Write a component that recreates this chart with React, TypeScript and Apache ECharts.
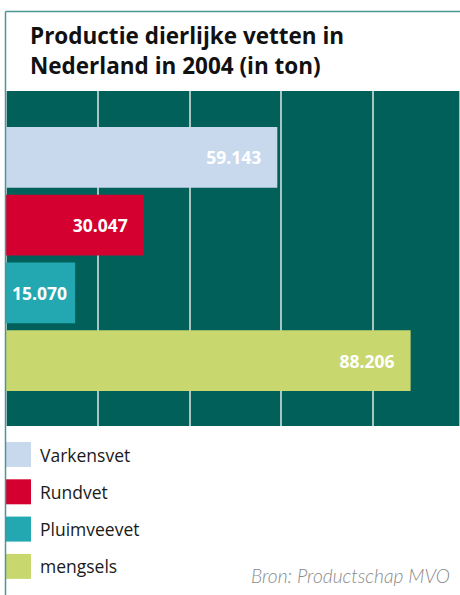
import React, { useEffect, useRef } from "react";
import * as echarts from "echarts";

const categories = ["Varkensvet", "Rundvet", "Pluimveevet", "mengsels"];
const values = [59143, 30047, 15070, 88206];
const colors = ["#C8D9EE", "#D4002F", "#23A7B0", "#C8D76E"];
const titleText = "Productie dierlijke vetten in\nNederland in 2004 (in ton)";
const sourceText = "Bron: Productschap MVO";

function fmt(v: number): string {
  const th = Math.floor(v / 1000);
  const rest = String(v % 1000).padStart(3, "0");
  return th > 0 ? `${th}.${rest}` : String(v);
}

export default function App() {
  const ref = useRef<HTMLDivElement>(null);
  useEffect(() => {
    if (!ref.current) return;
    const chart = echarts.init(ref.current, undefined, { renderer: "svg" });
    const series = categories.map((name, i) => ({
      name,
      type: "bar",
      stack: "total",
      xAxisIndex: 1,
      yAxisIndex: 1,
      barCategoryGap: "10%",
      itemStyle: { color: colors[i] },
      label: {
        show: true,
        position: "insideRight",
        distance: values[i] < 20000 ? 8 : 16,
        color: "#ffffff",
        fontFamily: "Open Sans",
        fontWeight: "bold",
        fontSize: 17.5,
        formatter: (p: any) => fmt(p.value),
      },
      data: categories.map((_, j) => (j === i ? values[i] : null)),
    }));
    chart.setOption({
      animation: false,
      textStyle: { fontFamily: "Open Sans" },
      title: {
        text: titleText,
        left: 30,
        top: 20,
        padding: 0,
        textStyle: {
          fontFamily: "Open Sans",
          fontWeight: "bold",
          fontSize: 22.5,
          lineHeight: 30,
          color: "#111111",
        },
      },
      legend: {
        orient: "vertical",
        left: 6,
        top: 442,
        padding: 0,
        itemWidth: 25,
        itemHeight: 25,
        itemGap: 12.3,
        icon: "rect",
        selectedMode: false,
        data: categories,
        textStyle: {
          fontFamily: "Open Sans",
          fontSize: 17.5,
          color: "#1a1a1a",
          padding: [0, 0, 0, 4],
        },
      },
      grid: [
        {
          left: 6,
          top: 91,
          right: 0,
          height: 335,
          show: true,
          backgroundColor: "#02605A",
          borderWidth: 0,
        },
        { left: 6, top: 123.5, right: 0, height: 271 },
      ],
      xAxis: [
        {
          gridIndex: 0,
          type: "value",
          min: 0,
          max: 98970,
          interval: 20000,
          axisLine: { show: false },
          axisTick: { show: false },
          axisLabel: { show: false },
          splitLine: { show: true, lineStyle: { color: "#dfe8e6", width: 1.5 } },
        },
        { gridIndex: 1, type: "value", min: 0, max: 98970, show: false },
      ],
      yAxis: [
        { gridIndex: 0, type: "value", min: 0, max: 1, show: false },
        {
          gridIndex: 1,
          type: "category",
          data: categories,
          inverse: true,
          show: false,
        },
      ],
      graphic: [
        {
          type: "line",
          shape: { x1: 5.5, y1: 11.5, x2: 460, y2: 11.5 },
          style: { stroke: "#4c9792", lineWidth: 1.5 },
        },
        {
          type: "line",
          shape: { x1: 5.5, y1: 11.5, x2: 5.5, y2: 595 },
          style: { stroke: "#4c9792", lineWidth: 1.5 },
          z: 10,
        },
        {
          type: "text",
          right: 10,
          top: 566,
          style: {
            text: sourceText,
            fontFamily: "Lato",
            fontStyle: "italic",
            fontWeight: 300,
            fontSize: 19.2,
            fill: "#8a8a8a",
          },
        },
      ],
      series,
    });
    return () => chart.dispose();
  }, []);
  return (
    <div
      ref={ref}
      style={{ position: "absolute", left: 0, top: 0, width: 460, height: 595 }}
    />
  );
}
